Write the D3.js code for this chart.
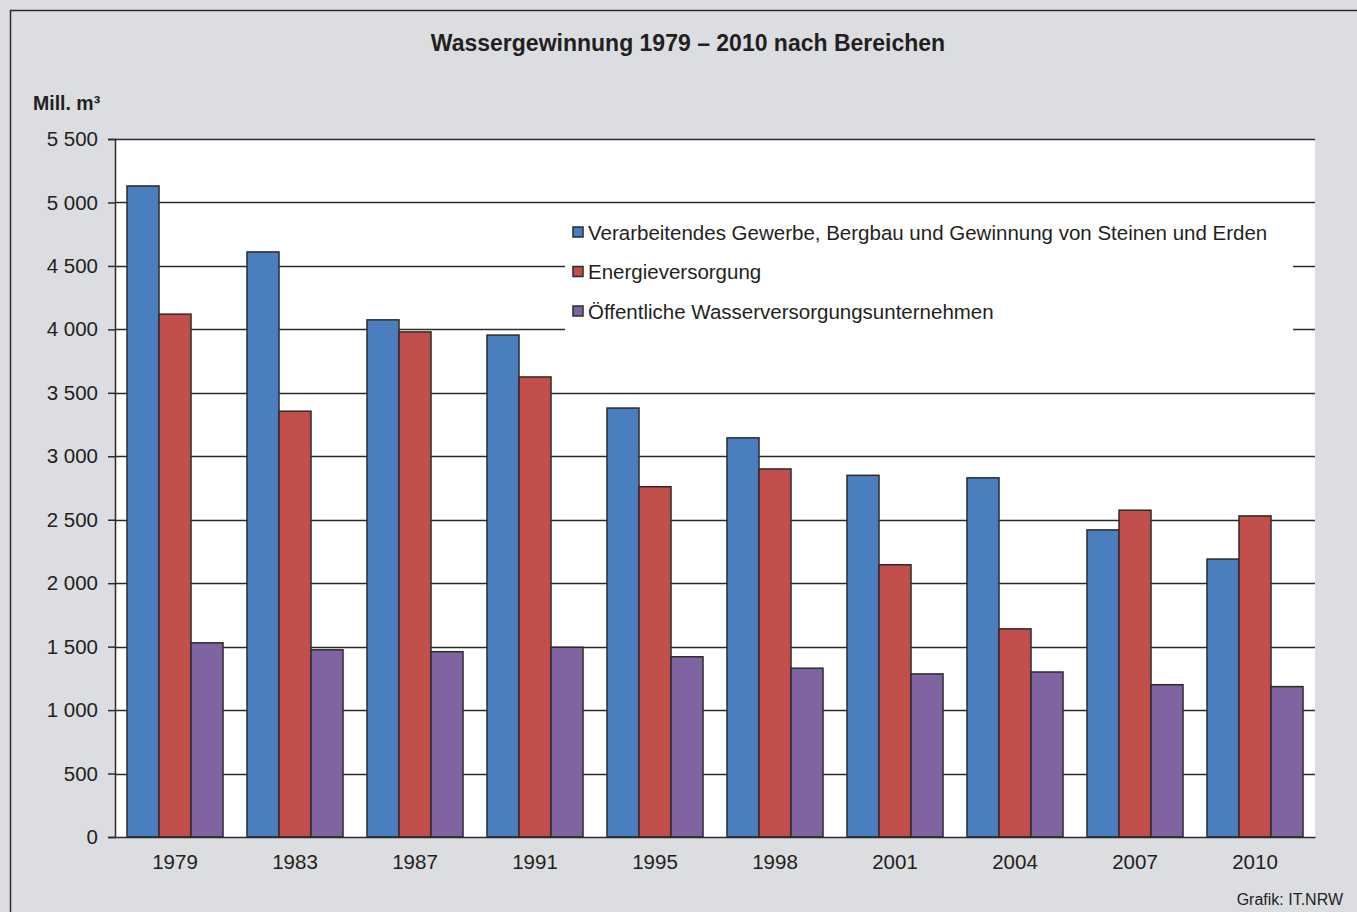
<!DOCTYPE html>
<html lang="de">
<head>
<meta charset="utf-8">
<title>Wassergewinnung 1979 – 2010 nach Bereichen</title>
<script src="https://d3js.org/d3.v7.min.js"></script>
<style>
  body { margin: 0; background: #dcdde0; }
  svg { display: block; font-family: "Liberation Sans", Arial, sans-serif; }
</style>
</head>
<body>
<div id="chart"></div>
<script>
// data
var years = ["1979", "1983", "1987", "1991", "1995", "1998", "2001", "2004", "2007", "2010"];
var gewerbe = [5130, 4610, 4075, 3955, 3380, 3145, 2850, 2830, 2420, 2190];
var energie = [4120, 3355, 3980, 3625, 2760, 2900, 2145, 1640, 2575, 2530];
var oeffentlich = [1530, 1475, 1460, 1495, 1420, 1330, 1285, 1300, 1200, 1185];
var seriesNames = [
  "Verarbeitendes Gewerbe, Bergbau und Gewinnung von Steinen und Erden",
  "Energieversorgung",
  "Öffentliche Wasserversorgungsunternehmen"
];
var colors = ["#4a7ebe", "#c24f4c", "#8064a2"];
var yTicks = [0, 500, 1000, 1500, 2000, 2500, 3000, 3500, 4000, 4500, 5000, 5500];

var W = 1357, H = 912;
var margin = {top: 139, right: 42, bottom: 75, left: 115},
    width = W - margin.left - margin.right,
    height = H - margin.top - margin.bottom;

var svg = d3.select("#chart").append("svg")
    .attr("width", W)
    .attr("height", H);

// grey background with frame
svg.append("rect").attr("width", W).attr("height", H).attr("fill", "#dcdde0");
svg.append("rect")
    .attr("x", 10.5).attr("y", 10.5)
    .attr("width", W + 20).attr("height", H + 20)
    .attr("fill", "none").attr("stroke", "#2b2b2b").attr("stroke-width", 1.5);

// title
svg.append("text")
    .attr("x", 688).attr("y", 51)
    .attr("text-anchor", "middle")
    .style("font-size", "23px").style("font-weight", "bold")
    .attr("fill", "#231f20")
    .text("Wassergewinnung 1979 – 2010 nach Bereichen");

// unit label
svg.append("text")
    .attr("x", 33).attr("y", 110)
    .style("font-size", "19.5px").style("font-weight", "bold")
    .attr("fill", "#231f20")
    .text("Mill. m³");

var g = svg.append("g")
    .attr("transform", "translate(" + margin.left + "," + margin.top + ")");

// white plot area
g.append("rect").attr("width", width).attr("height", height).attr("fill", "#fff");

var x0 = d3.scaleBand().domain(years).range([0, width]).paddingInner(0.2).paddingOuter(0.1);
var x1 = d3.scaleBand().domain([0, 1, 2]).range([0, x0.bandwidth()]);
var y = d3.scaleLinear().domain([0, 5500]).range([height, 0]);

// gridlines
g.append("g").selectAll("line").data(yTicks.slice(1)).join("line")
    .attr("x1", 0).attr("x2", width)
    .attr("y1", function(d) { return Math.round(y(d)) + 0.5; })
    .attr("y2", function(d) { return Math.round(y(d)) + 0.5; })
    .attr("stroke", "#2b2b2b").attr("stroke-width", 1.5);

// legend box covers the grid
var legend = g.append("g").attr("transform", "translate(450,66)");
legend.append("rect").attr("width", 728).attr("height", 128).attr("fill", "#fff");
seriesNames.forEach(function(name, i) {
  var row = legend.append("g").attr("transform", "translate(0," + (i * 39.5) + ")");
  row.append("rect")
      .attr("x", 8).attr("y", 22).attr("width", 10).attr("height", 10)
      .attr("fill", colors[i]).attr("stroke", "#2b2b2b").attr("stroke-width", 1.5);
  row.append("text")
      .attr("x", 23).attr("y", 34.5)
      .style("font-size", "20.5px").attr("fill", "#231f20")
      .text(name);
});

// bars
var series = [gewerbe, energie, oeffentlich];
var groups = g.append("g").selectAll("g").data(years).join("g")
    .attr("transform", function(d) { return "translate(" + x0(d) + ",0)"; });
groups.selectAll("rect")
    .data(function(d, i) { return series.map(function(s, k) { return {k: k, v: s[i]}; }); })
    .join("rect")
    .attr("x", function(d) { return x1(d.k); })
    .attr("y", function(d) { return y(d.v); })
    .attr("width", x1.bandwidth())
    .attr("height", function(d) { return height - y(d.v); })
    .attr("fill", function(d) { return colors[d.k]; })
    .attr("stroke", "#2b2b2b").attr("stroke-width", 1.5);

// y axis
var yAxis = g.append("g")
    .call(d3.axisLeft(y).tickValues(yTicks).tickSize(7).tickPadding(10)
      .tickFormat(function(d) { return d3.format(",")(d).replace(",", " "); }));
yAxis.select(".domain").attr("stroke", "#2b2b2b").attr("stroke-width", 1.5);
yAxis.selectAll(".tick line").attr("stroke", "#2b2b2b").attr("stroke-width", 1.5);
yAxis.selectAll("text").style("font-size", "20.5px").attr("fill", "#231f20")
    .style("font-family", "'Liberation Sans', Arial, sans-serif");

// x axis
var xAxis = g.append("g")
    .attr("transform", "translate(0," + height + ")")
    .call(d3.axisBottom(x0).tickSize(0).tickPadding(17));
xAxis.select(".domain").attr("stroke", "#2b2b2b").attr("stroke-width", 1.5);
xAxis.selectAll("text").style("font-size", "20.5px").attr("fill", "#231f20")
    .style("font-family", "'Liberation Sans', Arial, sans-serif");

// source
svg.append("text")
    .attr("x", 1343).attr("y", 905)
    .attr("text-anchor", "end")
    .style("font-size", "16px").attr("fill", "#231f20")
    .text("Grafik: IT.NRW");
</script>
</body>
</html>
